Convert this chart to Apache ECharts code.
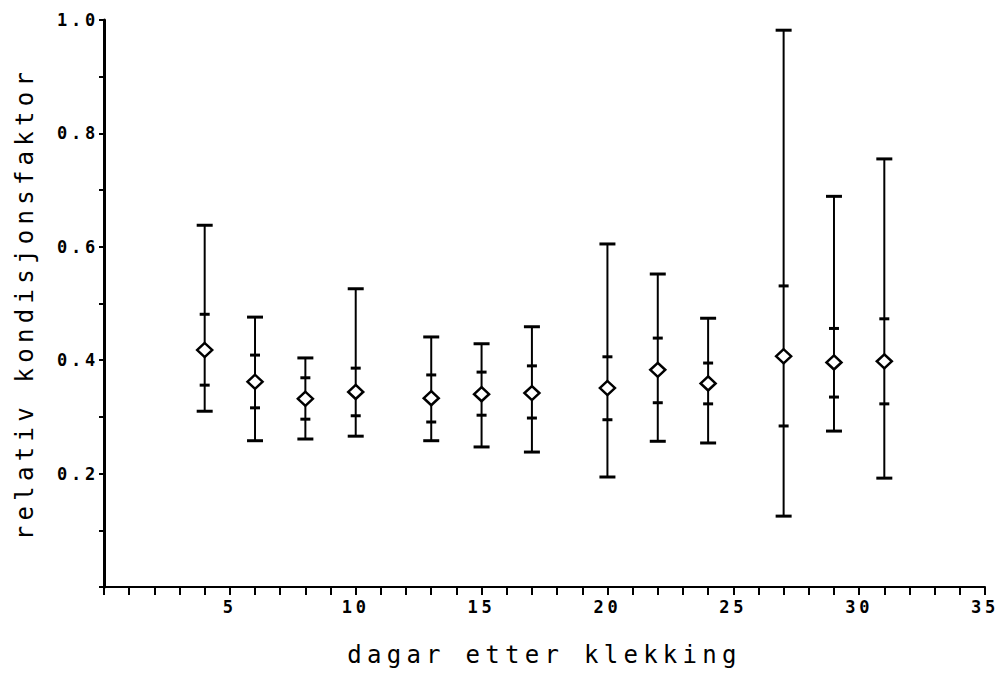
<!DOCTYPE html>
<html>
<head>
<meta charset="utf-8">
<script src="https://cdn.jsdelivr.net/npm/echarts@6/dist/echarts.min.js"></script>
<style>
  html, body { margin: 0; padding: 0; background: #fff; }
  #chart { width: 1000px; height: 679px; }
  /* the plotter font in the original is very wide */
  #chart text { letter-spacing: 0.22em; }
</style>
</head>
<body>
<div id="chart"></div>
<script>
// dagar etter klekking
const days = [4, 6, 8, 10, 13, 15, 17, 20, 22, 24, 27, 29, 31];
// relativ kondisjonsfaktor: mean, inner bar (lo/hi) and range (min/max)
const means  = [0.418, 0.362, 0.332, 0.344, 0.333, 0.340, 0.342, 0.351, 0.383, 0.359, 0.407, 0.396, 0.398];
const innerLo = [0.356, 0.316, 0.296, 0.302, 0.291, 0.303, 0.298, 0.295, 0.325, 0.323, 0.284, 0.335, 0.323];
const innerHi = [0.481, 0.409, 0.369, 0.386, 0.374, 0.379, 0.390, 0.406, 0.439, 0.395, 0.531, 0.456, 0.473];
const minVals = [0.310, 0.258, 0.261, 0.266, 0.258, 0.247, 0.238, 0.194, 0.257, 0.254, 0.125, 0.275, 0.192];
const maxVals = [0.638, 0.476, 0.404, 0.526, 0.441, 0.429, 0.459, 0.605, 0.552, 0.474, 0.982, 0.689, 0.755];

const xLabels = [5, 10, 15, 20, 25, 30, 35];
const yLabels = [0.2, 0.4, 0.6, 0.8, 1.0];

const chart = echarts.init(document.getElementById('chart'), null, {renderer: 'svg'});

const font = '"DejaVu Sans Mono", monospace';

const barData = days.map((d, i) => [d, minVals[i], innerLo[i], innerHi[i], maxVals[i]]);
const meanData = days.map((d, i) => [d, means[i]]);

function renderBar(params, api) {
  const x = api.value(0);
  const pMin = api.coord([x, api.value(1)]);
  const pLo = api.coord([x, api.value(2)]);
  const pHi = api.coord([x, api.value(3)]);
  const pMax = api.coord([x, api.value(4)]);
  const cap = 8, tick = 5;
  const seg = (x1, y1, x2, y2, w) => ({
    type: 'line',
    shape: {x1, y1, x2, y2},
    style: {stroke: '#000', lineWidth: w || 2}
  });
  return {
    type: 'group',
    children: [
      seg(pMin[0], pMin[1], pMax[0], pMax[1], 2),
      seg(pMin[0] - cap, pMin[1], pMin[0] + cap, pMin[1], 3),
      seg(pMax[0] - cap, pMax[1], pMax[0] + cap, pMax[1], 3),
      seg(pLo[0] - tick, pLo[1], pLo[0] + tick, pLo[1], 3),
      seg(pHi[0] - tick, pHi[1], pHi[0] + tick, pHi[1], 3)
    ]
  };
}

const option = {
  backgroundColor: '#fff',
  animation: false,
  grid: {left: 104, right: 15, top: 20, bottom: 92},
  xAxis: {
    type: 'value',
    min: 0,
    max: 35,
    interval: 1,
    name: 'dagar etter klekking',
    nameLocation: 'middle',
    nameGap: 56,
    nameTextStyle: {fontFamily: font, fontSize: 24, color: '#000'},
    splitLine: {show: false},
    axisLine: {lineStyle: {color: '#000', width: 2}},
    axisTick: {length: 8, lineStyle: {color: '#000', width: 2}},
    axisLabel: {
      margin: 11,
      fontFamily: font,
      fontSize: 17,
      fontWeight: 'bold',
      color: '#000',
      formatter: v => xLabels.includes(v) ? String(v) : ''
    }
  },
  yAxis: {
    type: 'value',
    min: 0,
    max: 1,
    interval: 0.1,
    name: 'relativ kondisjonsfaktor',
    nameLocation: 'middle',
    nameGap: 67,
    nameTextStyle: {fontFamily: font, fontSize: 24, color: '#000'},
    splitLine: {show: false},
    axisLine: {lineStyle: {color: '#000', width: 3}},
    axisTick: {length: 5, lineStyle: {color: '#000', width: 2}},
    axisLabel: {
      margin: 5,
      fontFamily: font,
      fontSize: 17,
      fontWeight: 'bold',
      color: '#000',
      formatter: v => {
        const r = Math.round(v * 10) / 10;
        return yLabels.some(l => Math.abs(l - r) < 1e-6) ? r.toFixed(1) : '';
      }
    }
  },
  series: [
    {
      type: 'custom',
      renderItem: renderBar,
      data: barData,
      encode: {x: 0, y: [1, 4]},
      z: 2
    },
    {
      type: 'scatter',
      data: meanData,
      symbol: 'diamond',
      symbolSize: [15, 14],
      itemStyle: {color: '#fff', borderColor: '#000', borderWidth: 2.5, opacity: 1},
      z: 3
    }
  ]
};

chart.setOption(option);
</script>
</body>
</html>
